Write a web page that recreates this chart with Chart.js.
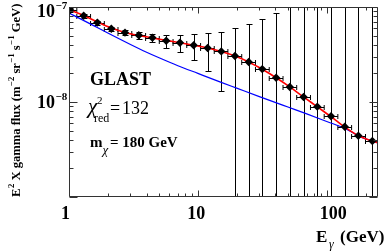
<!DOCTYPE html>
<html><head><meta charset="utf-8">
<script src="https://cdn.jsdelivr.net/npm/chart.js@4/dist/chart.umd.min.js"></script>
<style>html,body{margin:0;padding:0;background:#fff;overflow:hidden}canvas{display:block}</style>
</head><body>
<canvas id="c" width="392" height="251"></canvas>
<script>
// ---- data ----
const energies = [1.02,1.30,1.66,2.13,2.72,3.48,4.44,5.68,7.26,9.28,11.9,15.2,19.4,24.8,31.6,40.5,51.7,66.1,84.5,108,138,176,226];
const binLow   = [0.90,1.15,1.47,1.88,2.40,3.07,3.93,5.02,6.42,8.20,10.5,13.4,17.1,21.9,28.0,35.8,45.8,58.5,74.8,95.6,122,156,200];
const binHigh  = [1.15,1.47,1.88,2.40,3.07,3.93,5.02,6.42,8.20,10.5,13.4,17.1,21.9,28.0,35.8,45.8,58.5,74.8,95.6,122,156,200,255];
const flux     = [9.3e-8,8.1e-8,6.85e-8,5.9e-8,5.37e-8,5.04e-8,4.75e-8,4.42e-8,4.21e-8,3.96e-8,3.70e-8,3.41e-8,3.05e-8,2.64e-8,2.22e-8,1.80e-8,1.44e-8,1.13e-8,8.93e-9,7.07e-9,5.49e-9,4.42e-9,3.88e-9];
const fluxErr  = [0.45e-8,0.4e-8,0.35e-8,0.32e-8,0.32e-8,0.38e-8,0.48e-8,0.7e-8,0.85e-8,1.2e-8,1.57e-8,2.1e-8,2.96e-8,3.94e-8,5.26e-8,6.8e-8,9.5e-8,1.1e-7,1.3e-7,1.5e-7,1.8e-7,2.1e-7,2.5e-7];

const fitE     = [1.0,1.30,1.66,2.13,2.72,3.48,4.44,5.68,7.26,9.28,11.9,15.2,19.4,24.8,31.6,40.5,51.7,66.1,84.5,108,138,176,226,250];
const fitFlux  = [9.4e-8,8.15e-8,6.95e-8,6.0e-8,5.4e-8,5.02e-8,4.73e-8,4.45e-8,4.2e-8,3.95e-8,3.7e-8,3.4e-8,3.05e-8,2.64e-8,2.21e-8,1.8e-8,1.44e-8,1.13e-8,8.9e-9,7.0e-9,5.45e-9,4.42e-9,3.88e-9,3.72e-9];

const bgE      = [1.0,1.5,2.0,3.0,4.0,5.0,7.0,10,15,20,30,50,70,100,140,176,200,226,250];
const bgFlux   = [8.65e-8,6.52e-8,5.32e-8,4.03e-8,3.34e-8,2.92e-8,2.41e-8,2.0e-8,1.62e-8,1.40e-8,1.14e-8,8.85e-9,7.5e-9,6.24e-9,5.25e-9,4.4e-9,4.1e-9,3.87e-9,3.7e-9];

const xMajorTicks = [1,10,100];
const xMinorTicks = [2,3,4,5,6,7,8,9,20,30,40,50,60,70,80,90,200];
const xTickLabels = ['1','10','100'];
const yMajorTicks = [1e-9,1e-8,1e-7];
const yMinorTicks = [2e-9,3e-9,4e-9,5e-9,6e-9,7e-9,8e-9,9e-9,2e-8,3e-8,4e-8,5e-8,6e-8,7e-8,8e-8,9e-8];
const yLabelValues = [1e-8,1e-7];
const yLabelExps = ['\u22128','\u22127'];

const SERIF = '"Liberation Serif","Times New Roman",serif';

function drawParts(ctx, parts, x, y) {
  let cx = x;
  for (const p of parts) {
    ctx.font = p.font;
    ctx.fillText(p.t, cx + (p.dx || 0), y + (p.dy || 0));
    cx += ctx.measureText(p.t).width + (p.dx || 0);
  }
}

const errorBars = {
  id: 'errorBars',
  beforeDatasetsDraw(chart) {
    const {ctx, chartArea: a, scales: {x, y}} = chart;
    ctx.save();
    ctx.beginPath(); ctx.rect(a.left, a.top, a.right - a.left, a.bottom - a.top); ctx.clip();
    ctx.strokeStyle = '#000'; ctx.lineWidth = 1;
    for (let i = 0; i < energies.length; i++) {
      const px = Math.round(x.getPixelForValue(energies[i])) + 0.5;
      const py = Math.round(y.getPixelForValue(flux[i])) + 0.5;
      const hi = flux[i] + fluxErr[i], lo = flux[i] - fluxErr[i];
      const pyHi = Math.round(y.getPixelForValue(hi)) + 0.5;
      const pyLo = lo > 0 ? Math.round(y.getPixelForValue(lo)) + 0.5 : a.bottom + 5;
      ctx.beginPath();
      ctx.moveTo(px, pyHi); ctx.lineTo(px, pyLo);
      ctx.moveTo(px - 3, pyHi); ctx.lineTo(px + 3, pyHi);
      if (lo > 0) { ctx.moveTo(px - 3, pyLo); ctx.lineTo(px + 3, pyLo); }
      const xl = x.getPixelForValue(binLow[i]), xr = x.getPixelForValue(binHigh[i]);
      ctx.moveTo(xl, py); ctx.lineTo(xr, py);
      ctx.moveTo(xl, py - 2.5); ctx.lineTo(xl, py + 2.5);
      ctx.moveTo(xr, py - 2.5); ctx.lineTo(xr, py + 2.5);
      ctx.stroke();
    }
    ctx.restore();
  }
};

const frame = {
  id: 'frame',
  afterDraw(chart) {
    const {ctx, chartArea: a, scales: {x, y}} = chart;
    ctx.save();
    ctx.strokeStyle = '#333'; ctx.lineWidth = 1;
    const L = Math.round(a.left) + 0.5, R = Math.round(a.right) - 0.5;
    const T = Math.round(a.top) + 0.5, B = Math.round(a.bottom) - 0.5;
    ctx.beginPath();
    ctx.rect(L, T, R - L, B - T);
    const xt = (v, len) => {
      const p = Math.round(x.getPixelForValue(v)) + 0.5;
      ctx.moveTo(p, B); ctx.lineTo(p, B - len);
      ctx.moveTo(p, T); ctx.lineTo(p, T + len);
    };
    const yt = (v, len) => {
      const p = Math.round(y.getPixelForValue(v)) + 0.5;
      ctx.moveTo(L, p); ctx.lineTo(L + len, p);
      ctx.moveTo(R, p); ctx.lineTo(R - len, p);
    };
    xMajorTicks.forEach(v => xt(v, 6));
    xMinorTicks.forEach(v => xt(v, 3));
    yMajorTicks.forEach(v => yt(v, 8));
    yMinorTicks.forEach(v => yt(v, 4));
    ctx.stroke();

    ctx.fillStyle = '#000';
    ctx.textBaseline = 'alphabetic';
    ctx.font = 'bold 18px ' + SERIF;
    ctx.textAlign = 'center';
    const nudge = [-3.5, -1.5, 6.5];
    xMajorTicks.forEach((v, i) => {
      ctx.fillText(xTickLabels[i], x.getPixelForValue(v) + nudge[i], 219);
    });
    yLabelValues.forEach((v, i) => {
      const c = Math.max(y.getPixelForValue(v), a.top + 4);
      ctx.textAlign = 'right';
      ctx.font = 'bold 18px ' + SERIF;
      ctx.fillText('10', 55, c + 6);
      ctx.textAlign = 'left';
      ctx.font = 'bold 11px ' + SERIF;
      ctx.fillText(yLabelExps[i], 55.5, c - 2);
    });
    ctx.textAlign = 'left';
    // x title
    ctx.font = 'bold 17px ' + SERIF;
    ctx.fillText('E', 316, 242);
    ctx.font = 'italic 12px ' + SERIF;
    ctx.fillText('\u03b3', 329, 248);
    ctx.font = 'bold 17px ' + SERIF;
    ctx.fillText('(GeV)', 340, 242);
    // y title (rotated)
    ctx.save();
    ctx.translate(20, 197);
    ctx.rotate(-Math.PI / 2);
    const fb = 'bold 12.6px ' + SERIF, fs = 'bold 8.7px ' + SERIF;
    drawParts(ctx, [
      {t: 'E', font: fb}, {t: '2', font: fs, dy: -6, dx: 0.5},
      {t: ' X gamma flux (m', font: fb}, {t: '\u22122', font: fs, dy: -6, dx: 0.5},
      {t: ' sr', font: fb}, {t: '\u22121', font: fs, dy: -6, dx: 0.5},
      {t: ' s', font: fb}, {t: '\u22121', font: fs, dy: -6, dx: 0.5},
      {t: ' GeV)', font: fb}
    ], 0, 0);
    ctx.restore();
    // annotations
    ctx.font = 'bold 18px ' + SERIF;
    ctx.fillText('GLAST', 90, 85);
    ctx.font = 'italic 21px ' + SERIF;
    ctx.fillText('\u03c7', 88, 113);
    ctx.font = '11px ' + SERIF;
    ctx.fillText('2', 97, 104);
    ctx.font = '12px ' + SERIF;
    ctx.fillText('red', 94, 121.5);
    ctx.font = '18px ' + SERIF;
    ctx.fillText('=', 110, 113.5);
    ctx.fillText('132', 122, 113.5);
    ctx.font = 'bold 15px ' + SERIF;
    ctx.fillText('m', 90, 147);
    ctx.font = 'italic 13px ' + SERIF;
    ctx.fillText('\u03c7', 102.5, 154);
    ctx.font = 'bold 15px ' + SERIF;
    ctx.fillText('= 180 GeV', 110, 147);
    ctx.restore();
  }
};

new Chart(document.getElementById('c'), {
  type: 'scatter',
  data: {
    datasets: [
      {
        label: 'GLAST data',
        data: energies.map((e, i) => ({x: e, y: flux[i]})),
        pointStyle: 'rectRot', pointRadius: 4.2, pointBackgroundColor: '#000',
        pointBorderColor: '#000', pointBorderWidth: 0, showLine: false
      },
      {
        label: 'fit',
        data: fitE.map((e, i) => ({x: e, y: fitFlux[i]})),
        showLine: true, borderColor: '#ff0000', borderWidth: 1.6, pointRadius: 0,
        cubicInterpolationMode: 'monotone', fill: false
      },
      {
        label: 'background',
        data: bgE.map((e, i) => ({x: e, y: bgFlux[i]})),
        showLine: true, borderColor: '#0000ff', borderWidth: 1.2, pointRadius: 0,
        cubicInterpolationMode: 'monotone', fill: false
      }
    ]
  },
  options: {
    responsive: false, animation: false, devicePixelRatio: 1,
    layout: {padding: {left: 69, right: 14, top: 7, bottom: 54}},
    plugins: {legend: {display: false}, tooltip: {enabled: false}},
    scales: {
      x: {type: 'logarithmic', min: 1, max: 250, display: false},
      y: {type: 'logarithmic', min: 1e-9, max: 1e-7, display: false}
    }
  },
  plugins: [errorBars, frame]
});
</script>
</body></html>
